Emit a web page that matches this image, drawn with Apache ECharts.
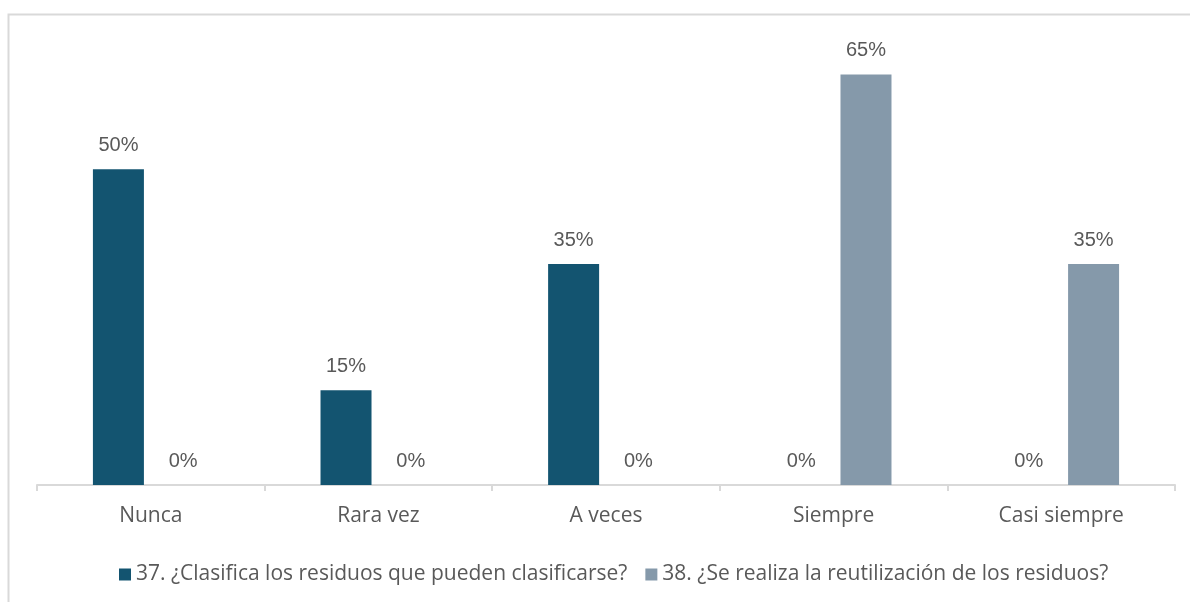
<!DOCTYPE html>
<html>
<head>
<meta charset="UTF-8">
<title>Residuos</title>
<script src="https://cdn.jsdelivr.net/npm/echarts@6/dist/echarts.min.js"></script>
<style>
  html, body { margin: 0; padding: 0; background: #fff; }
  #main { width: 1190px; height: 602px; }
</style>
</head>
<body>
<div id="main"></div>
<script>
// categorias y valores (%)
var categories = ['Nunca', 'Rara vez', 'A veces', 'Siempre', 'Casi siempre'];
var serie37 = [50, 15, 35, 0, 0];
var serie38 = [0, 0, 0, 65, 35];
var names = [
    '37. ¿Clasifica los residuos que pueden clasificarse?',
    '38. ¿Se realiza la reutilización de los residuos?'
];

var chart = echarts.init(document.getElementById('main'));

var labelStyle = {
    show: true,
    position: 'top',
    distance: 14,
    formatter: '{c}%',
    color: '#595959',
    fontFamily: 'Liberation Sans',
    fontSize: 20
};

chart.setOption({
    animation: false,
    textStyle: { fontFamily: 'Open Sans' },
    graphic: [{
        type: 'rect',
        shape: { x: 8.5, y: 14.5, width: 1200, height: 700 },
        style: { fill: 'none', stroke: '#d9d9d9', lineWidth: 2 },
        silent: true
    }],
    legend: {
        top: 559,
        left: 114,
        itemWidth: 12,
        itemHeight: 12,
        itemGap: 18,
        icon: 'rect',
        textStyle: { color: '#595959', fontSize: 21, fontFamily: 'Open Sans' },
        data: names
    },
    grid: { left: 37, right: 15, top: 43, bottom: 117 },
    xAxis: {
        type: 'category',
        data: categories,
        axisLine: { lineStyle: { color: '#d9d9d9', width: 2 } },
        axisTick: { show: true, length: 6, lineStyle: { color: '#d9d9d9', width: 2 } },
        axisLabel: { color: '#595959', fontSize: 21, margin: 21, fontFamily: 'Open Sans' }
    },
    yAxis: {
        type: 'value',
        min: 0,
        max: 70,
        show: false,
        splitLine: { show: false }
    },
    series: [
        {
            name: names[0],
            type: 'bar',
            data: serie37,
            itemStyle: { color: '#135470' },
            barWidth: 51,
            barGap: '27%',
            label: labelStyle
        },
        {
            name: names[1],
            type: 'bar',
            data: serie38,
            itemStyle: { color: '#8599aa' },
            barWidth: 51,
            label: labelStyle
        }
    ]
});
</script>
</body>
</html>
